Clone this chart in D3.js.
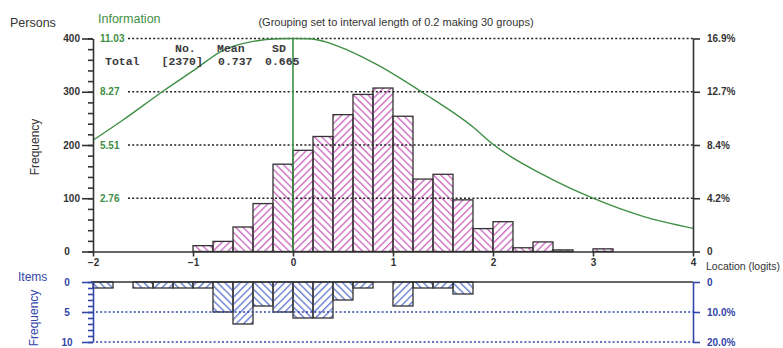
<!DOCTYPE html>
<html><head><meta charset="utf-8">
<script src="https://cdn.jsdelivr.net/npm/d3@7"></script>
<style>
body{margin:0;background:#fff;}
svg{display:block;font-family:"Liberation Sans",Arial,sans-serif;}
</style></head>
<body>
<svg id="c" width="783" height="348"></svg>
<script>
// ---------- data ----------
const binWidth = 0.2;
const personX0 = [-1.0,-0.8,-0.6,-0.4,-0.2,0.0,0.2,0.4,0.6,0.8,1.0,1.2,1.4,1.6,1.8,2.0,2.2,2.4,2.6,3.0];
const personCount = [11,19,46,90,164,190,216,257,295,307,254,136,145,97,43,56,7,18,3,5];
const itemX0 = [-2.0,-1.6,-1.4,-1.2,-1.0,-0.8,-0.6,-0.4,-0.2,0.0,0.2,0.4,0.6,1.0,1.2,1.4,1.6];
const itemCount = [1,1,1,1,1,5,7,4,5,6,6,3,1,4,1,1,2];
const infoX = [-2,-1.7,-1.3,-1.0,-0.7,-0.4,-0.15,0,0.15,0.55,0.85,1.3,1.8,2.0,2.5,3.0,3.5,4.0];
const infoY = [5.76,6.81,8.30,9.35,10.42,10.88,11.02,11.03,11.02,10.42,9.65,8.22,6.45,5.55,3.98,2.76,1.82,1.20];
const xTicks = [-2,-1,0,1,2,3,4];
const personTicks = [0,100,200,300,400];
const infoTickLabels = ["2.76","5.51","8.27","11.03"];
const personPctLabels = ["0","4.2%","8.4%","12.7%","16.9%"];
const itemTicks = [0,5,10];
const itemPctLabels = ["0","10.0%","20.0%"];
const infoMax = 11.03;
const personMax = 400;
const statsHead = ["No.","Mean","SD"];
const statsRow = ["Total","[2370]","0.737","0.665"];

// ---------- layout ----------
const svg = d3.select("#c");
const x = d3.scaleLinear().domain([-2,4]).range([93,693]);
const yP = d3.scaleLinear().domain([0,personMax]).range([251.5,38.5]);
const yI = d3.scaleLinear().domain([0,infoMax]).range([251.5,38.5]);
const yItem = d3.scaleLinear().domain([0,10]).range([282,342]);

const pink = "#cf6fc4", blue = "#6a80d2", green = "#3f8f45", axisBlue = "#3246a8", dark = "#333";

// patterns
const defs = svg.append("defs");
function hatch(id, color, angle){
  const p = defs.append("pattern").attr("id",id).attr("patternUnits","userSpaceOnUse")
    .attr("width",5.2).attr("height",5.2).attr("patternTransform",`rotate(${angle})`);
  p.append("rect").attr("x",0).attr("y",0).attr("width",1.4).attr("height",5.2).attr("fill",color);
}
hatch("pA",pink,-45); hatch("pB",pink,45);
hatch("bA",blue,-45); hatch("bB",blue,45);

const pIdx = x0 => Math.round((x0+2)/binWidth);

// person bars
svg.append("g").selectAll("rect").data(personX0.map((v,i)=>({x0:v,c:personCount[i]})))
  .join("rect")
  .attr("x",d=>x(d.x0)).attr("width",d=>x(d.x0+binWidth)-x(d.x0))
  .attr("y",d=>yP(d.c)).attr("height",d=>yP(0)-yP(d.c))
  .attr("fill",d=>pIdx(d.x0)%2 ? "url(#pA)" : "url(#pB)")
  .attr("stroke",dark).attr("stroke-width",1.3);

// item bars
svg.append("g").selectAll("rect").data(itemX0.map((v,i)=>({x0:v,c:itemCount[i]})))
  .join("rect")
  .attr("x",d=>x(d.x0)).attr("width",d=>x(d.x0+binWidth)-x(d.x0))
  .attr("y",yItem(0)).attr("height",d=>yItem(d.c)-yItem(0))
  .attr("fill",d=>pIdx(d.x0)%2 ? "url(#bB)" : "url(#bA)")
  .attr("stroke",dark).attr("stroke-width",1.3);

// grid lines (top)
svg.append("g").selectAll("line").data(personTicks.slice(1)).join("line")
  .attr("x1",128).attr("x2",x(4)).attr("y1",d=>yP(d)).attr("y2",d=>yP(d))
  .attr("stroke","#222").attr("stroke-width",1.3).attr("stroke-dasharray","2,2.2");
// grid lines (bottom)
svg.append("g").selectAll("line").data(itemTicks.slice(1)).join("line")
  .attr("x1",x(-2)+3).attr("x2",x(4)).attr("y1",d=>yItem(d)).attr("y2",d=>yItem(d))
  .attr("stroke",axisBlue).attr("stroke-width",1.3).attr("stroke-dasharray","2,2.2");

// information curve
svg.append("path").datum(infoX.map((v,i)=>[v,infoY[i]]))
  .attr("d",d3.line().x(d=>x(d[0])).y(d=>yI(d[1])).curve(d3.curveMonotoneX))
  .attr("fill","none").attr("stroke",green).attr("stroke-width",1.4);
svg.append("line").attr("x1",x(0)).attr("x2",x(0)).attr("y1",yP(personMax)).attr("y2",yP(0))
  .attr("stroke",green).attr("stroke-width",1.6);

// info labels
svg.append("g").selectAll("text").data(infoTickLabels).join("text")
  .attr("x",100).attr("y",(d,i)=>yP(personTicks[i+1])+3.5)
  .attr("fill",green).attr("font-size",10).attr("font-weight","bold").text(d=>d);

// axes styling helper
function style(g,color){
  g.selectAll("path,line").attr("stroke",color).attr("stroke-width",1.6);
  g.selectAll("text").attr("fill",color).attr("font-size",10).attr("font-weight","bold")
   .attr("font-family","'Liberation Sans',Arial,sans-serif");
}
// main left axis
const gl = svg.append("g").attr("transform",`translate(${x(-2)},0)`)
  .call(d3.axisLeft(yP).tickValues(personTicks).tickSize(11).tickSizeOuter(0).tickPadding(2));
style(gl,dark);
gl.selectAll(".tick text").filter(d=>d===0).attr("x",-26).attr("text-anchor","middle");
const glm = svg.append("g").attr("transform",`translate(${x(-2)},0)`)
  .call(d3.axisLeft(yP).tickValues(d3.range(0,401,20)).tickSize(5).tickSizeOuter(0).tickFormat(""));
style(glm,dark); glm.select(".domain").remove();
// x axis
const gx = svg.append("g").attr("transform",`translate(0,${yP(0)})`)
  .call(d3.axisBottom(x).tickValues(xTicks).tickSize(5).tickSizeOuter(0).tickPadding(2).tickFormat(d3.format("d")));
style(gx,dark);
// right axis
const gr = svg.append("g").attr("transform",`translate(${x(4)},0)`)
  .call(d3.axisRight(yP).tickValues(personTicks).tickSize(7).tickSizeOuter(0).tickPadding(7)
  .tickFormat((d,i)=>personPctLabels[i]));
style(gr,dark);

// bottom panel
svg.append("line").attr("x1",x(-2)-2).attr("x2",x(4)).attr("y1",yItem(0)).attr("y2",yItem(0))
  .attr("stroke",dark).attr("stroke-width",1.6);
const gbl = svg.append("g").attr("transform",`translate(${x(-2)},0)`)
  .call(d3.axisLeft(yItem).tickValues(itemTicks).tickSize(11).tickSizeOuter(0).tickPadding(2));
style(gbl,axisBlue);
gbl.selectAll(".tick text").attr("x",-26).attr("text-anchor","middle");
const gblm = svg.append("g").attr("transform",`translate(${x(-2)},0)`)
  .call(d3.axisLeft(yItem).tickValues(d3.range(0,11,1)).tickSize(5).tickSizeOuter(0).tickFormat(""));
style(gblm,axisBlue); gblm.select(".domain").remove();
const gbr = svg.append("g").attr("transform",`translate(${x(4)},0)`)
  .call(d3.axisRight(yItem).tickValues(itemTicks).tickSize(7).tickSizeOuter(0).tickPadding(7)
  .tickFormat((d,i)=>itemPctLabels[i]));
style(gbr,axisBlue);

// stats text block
const mono = "'Liberation Mono','DejaVu Sans Mono',monospace";
const headX = [175,217,272], rowX = [105,161.5,218,265];
svg.append("g").selectAll("text").data(statsHead).join("text")
  .attr("x",(d,i)=>headX[i]).attr("y",52).text(d=>d);
svg.append("g").selectAll("text").data(statsRow).join("text")
  .attr("x",(d,i)=>rowX[i]).attr("y",65).text(d=>d);
svg.selectAll("g text").filter(function(){return !this.getAttribute("font-size");})
  .attr("font-family",mono).attr("font-size",11.5).attr("font-weight","bold").attr("fill","#3a3a3a");

// titles
svg.append("text").attr("x",10).attr("y",27).attr("font-size",12.5).attr("fill",dark).text("Persons");
svg.append("text").attr("x",98).attr("y",23).attr("font-size",12.5).attr("fill",green).text("Information");
svg.append("text").attr("x",396).attr("y",26).attr("text-anchor","middle").attr("font-size",11).attr("fill",dark)
  .text("(Grouping set to interval length of 0.2 making 30 groups)");
svg.append("text").attr("transform","translate(39,147) rotate(-90)").attr("text-anchor","middle")
  .attr("font-size",12).attr("fill",dark).text("Frequency");
svg.append("text").attr("x",706).attr("y",270).attr("font-size",10).attr("fill",dark)
  .attr("textLength",74).attr("lengthAdjust","spacingAndGlyphs")
  .text("Location (logits)");
svg.append("text").attr("x",18).attr("y",281).attr("font-size",12).attr("fill",axisBlue).text("Items");
svg.append("text").attr("transform","translate(38,318) rotate(-90)").attr("text-anchor","middle")
  .attr("font-size",12).attr("fill",axisBlue).text("Frequency");
</script>
</body></html>
